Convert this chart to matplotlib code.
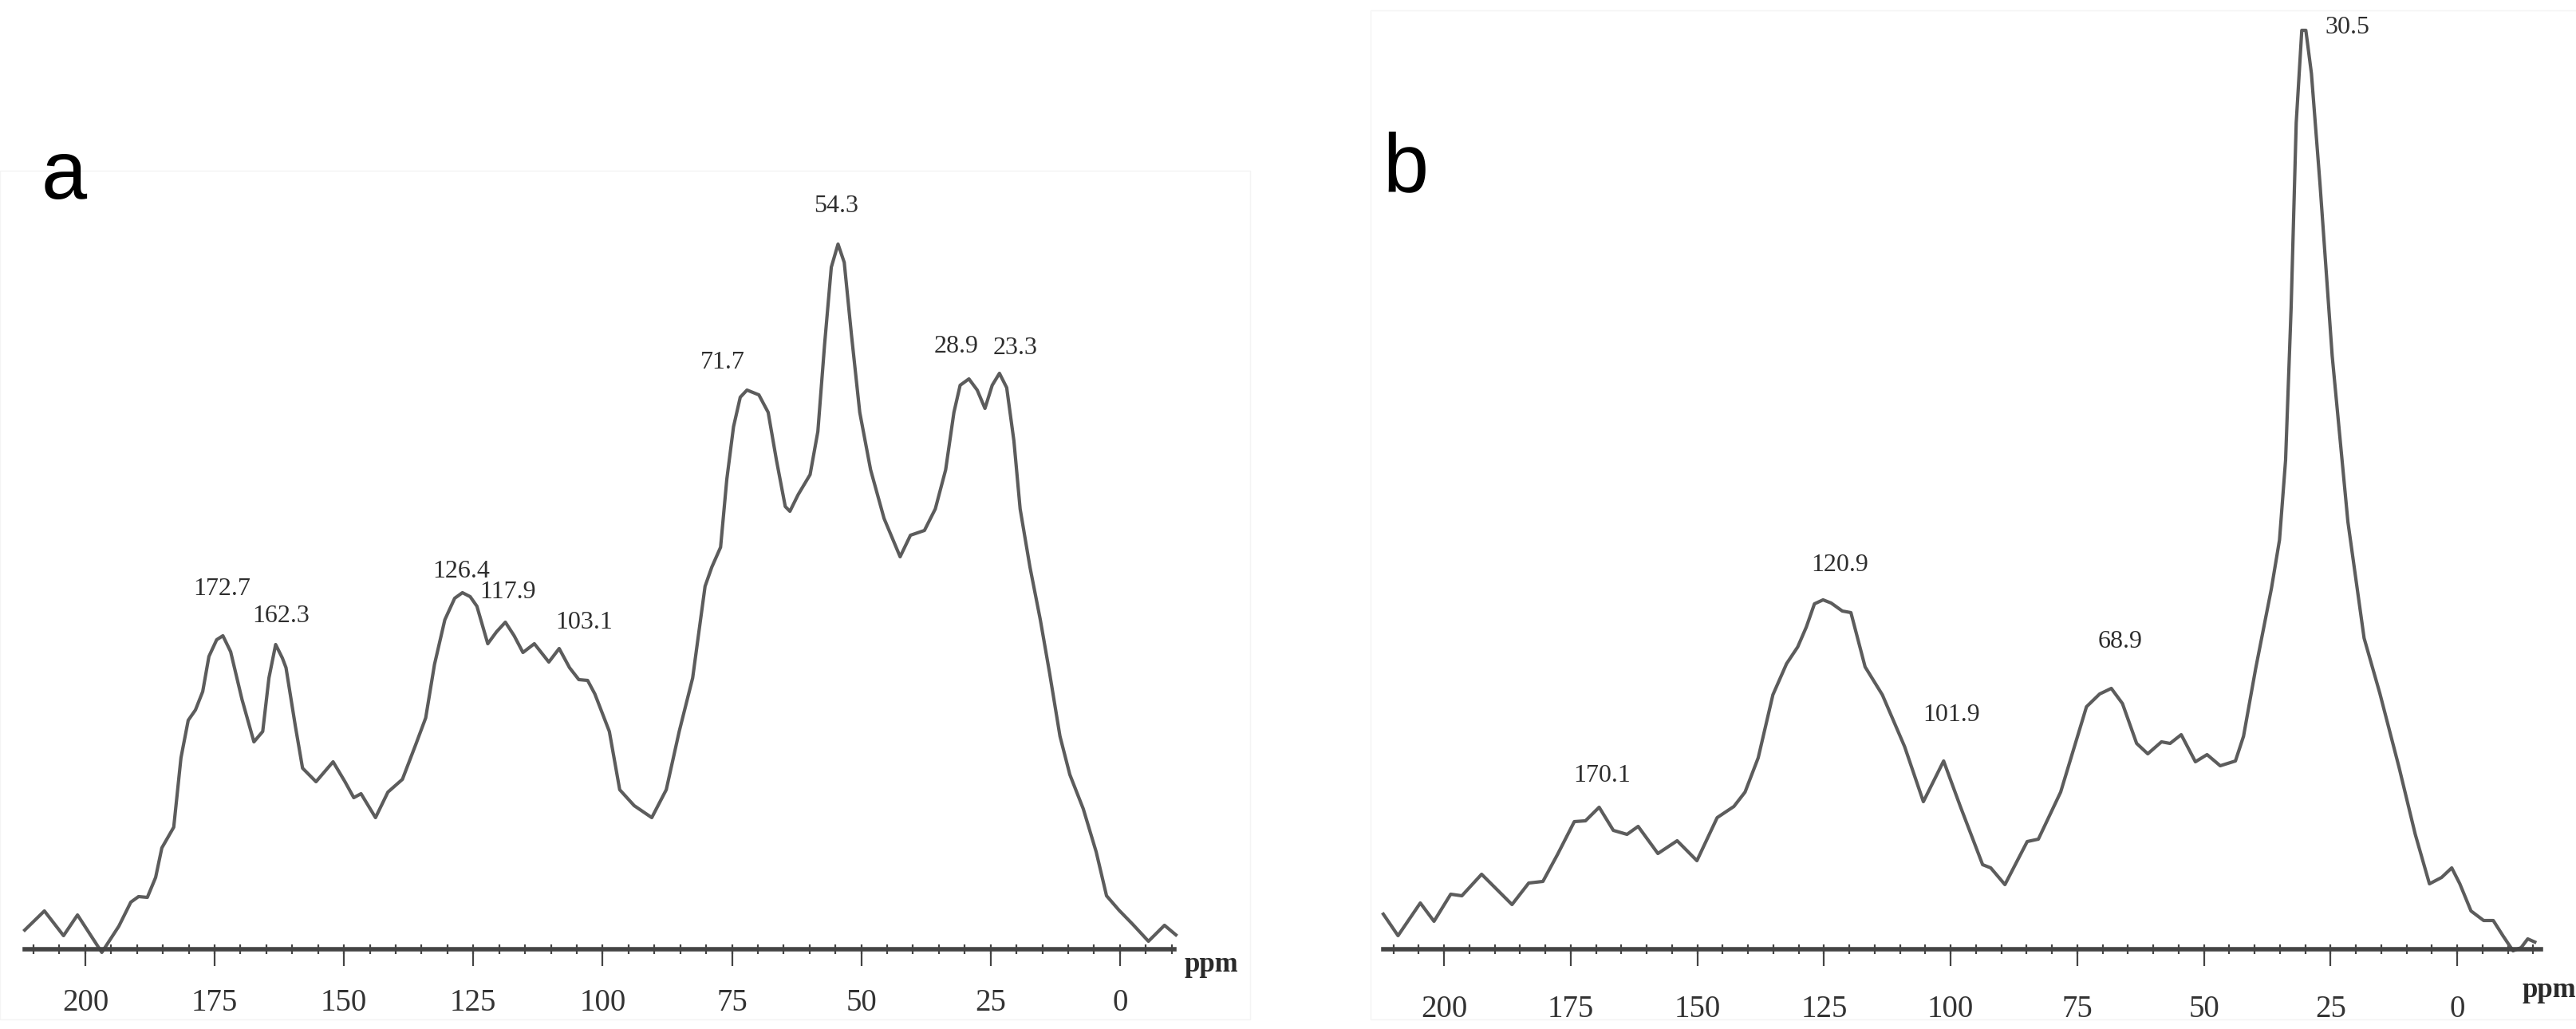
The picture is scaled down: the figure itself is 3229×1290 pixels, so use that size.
import numpy as np
import matplotlib.pyplot as plt
from matplotlib.ticker import MultipleLocator
from matplotlib.patches import Rectangle

# ---- spectrum a (ppm, intensity) ----
a_ppm = [211.7, 207.9, 204.2, 201.5, 196.8, 193.5, 191.2, 189.7, 188.0, 186.4,
         185.2, 182.9, 181.5, 180.1, 178.7, 177.3, 176.1, 174.6, 173.4, 171.9,
         169.7, 167.4, 165.7, 164.5, 163.2, 161.9, 161.2, 159.4, 158.0, 155.4,
         152.1, 149.8, 148.1, 146.7, 143.9, 141.5, 138.7, 136.1, 134.2, 132.5,
         130.5, 128.6, 127.1, 125.6, 124.3, 122.2, 120.5, 118.8, 117.1, 115.4,
         113.2, 110.4, 108.4, 106.4, 104.6, 102.9, 101.5, 98.7, 96.7, 93.9,
         90.5, 87.7, 85.2, 82.6, 80.2, 78.9, 77.2, 76.0, 74.7, 73.4,
         72.1, 69.8, 68.0, 66.4, 64.7, 63.8, 62.2, 59.9, 58.4, 57.1,
         55.8, 54.5, 53.3, 51.9, 50.3, 48.2, 45.6, 42.5, 40.5, 37.8,
         35.7, 33.7, 32.1, 30.9, 29.2, 27.6, 26.1, 24.7, 23.3, 21.9,
         20.5, 19.3, 17.4, 15.4, 13.6, 11.6, 9.7, 7.1, 4.6, 2.6,
         0.2, -2.5, -5.5, -8.6, -10.8]
a_int = [24, 48, 17, 43, -4, 29, 59, 66, 65, 90,
         127, 153, 240, 287, 300, 323, 367, 388, 393, 373,
         313, 260, 273, 340, 382, 365, 353, 280, 227, 210,
         235, 210, 190, 195, 165, 197, 213, 257, 290, 357,
         413, 440, 447, 442, 430, 383, 398, 410, 393, 372,
         383, 360, 377, 353, 338, 337, 320, 273, 200, 180,
         165, 200, 273, 340, 455, 479, 504, 589, 655, 692,
         701, 695, 673, 613, 555, 549, 570, 595, 649, 758,
         855, 884, 861, 770, 673, 601, 540, 492, 519, 525,
         552, 601, 673, 707, 715, 701, 678, 707, 722, 704,
         637, 552, 479, 413, 346, 267, 219, 176, 122, 67,
         49, 31, 10, 30, 18]

# ---- spectrum b ----
b_ppm = [212.0, 209.1, 204.7, 202.0, 198.7, 196.5, 192.6, 186.6, 183.3, 180.5,
         177.6, 174.3, 172.1, 169.4, 166.6, 163.9, 161.7, 157.8, 154.0, 150.1,
         146.1, 142.8, 140.6, 138.0, 135.1, 132.4, 130.2, 128.5, 126.9, 125.2,
         123.6, 121.4, 119.7, 116.9, 113.5, 109.1, 105.4, 101.4, 98.1, 93.7,
         92.1, 89.3, 84.9, 82.7, 78.3, 73.2, 70.6, 68.3, 66.1, 63.3,
         61.1, 58.4, 56.7, 54.5, 51.7, 49.4, 46.8, 43.8, 42.2, 39.8,
         36.7, 35.1, 33.9, 32.8, 31.8, 30.7, 29.9, 28.8, 27.1, 24.7,
         21.6, 18.4, 15.3, 11.5, 8.3, 5.5, 3.1, 1.1, -0.5, -2.7,
         -5.2, -7.1, -9.0, -11.0, -12.6, -13.9, -15.3]
b_int = [44, 17, 58, 35, 69, 67, 94, 56, 83, 85,
         119, 160, 161, 178, 149, 144, 154, 120, 136, 111,
         165, 179, 197, 240, 319, 358, 379, 404, 433, 438,
         434, 424, 422, 354, 319, 254, 185, 236, 179, 106,
         102, 81, 135, 138, 197, 304, 320, 327, 308, 258,
         245, 260, 258, 269, 235, 244, 230, 236, 267, 352,
         452, 513, 613, 805, 1036, 1152, 1152, 1098, 959, 744,
         536, 390, 321, 228, 144, 82, 90, 102, 82, 48,
         36, 36, 17, -2, 2, 13, 9]

# peak labels and where they sit (ppm, height)
a_peaks = ['172.7', '162.3', '126.4', '117.9', '103.1', '71.7', '54.3', '28.9', '23.3']
a_label_pos = [(173.6, 452), (162.2, 418), (127.4, 474), (118.3, 448), (103.6, 410),
               (76.8, 735), (54.8, 932), (31.7, 755), (20.2, 754)]
b_peaks = ['170.1', '120.9', '101.9', '68.9', '30.5']
b_label_pos = [(168.8, 217), (121.9, 481), (99.8, 294), (66.6, 386), (21.7, 1155)]

W, H = 3230, 1290
fig = plt.figure(figsize=(W / 100, H / 100), dpi=100)

# very faint borders of the two pasted pictures
fig.patches.append(Rectangle((0, 1 - 1278 / H), 1567 / W, (1278 - 214) / H,
                             transform=fig.transFigure, fill=False,
                             edgecolor='#f4f4f4', lw=1.0))
fig.patches.append(Rectangle((1718 / W, 1 - 1278 / H), (W - 1718) / W, (1278 - 13) / H,
                             transform=fig.transFigure, fill=False,
                             edgecolor='#f4f4f4', lw=1.0))


def spectrum(ax, ppm, inten, xlim, peaks, pos, pad):
    ax.plot(ppm, inten, color='#5c5c5c', lw=3.0, solid_joinstyle='round', clip_on=False)
    ax.set_xlim(*xlim)
    ax.set_ylim(-100, 1190)
    for s in ['top', 'left', 'right']:
        ax.spines[s].set_visible(False)
    ax.spines['bottom'].set_position(('data', 0))
    ax.spines['bottom'].set_color('#444444')
    ax.spines['bottom'].set_linewidth(4)
    ax.set_yticks([])
    ax.xaxis.set_major_locator(MultipleLocator(25))
    ax.xaxis.set_minor_locator(MultipleLocator(5))
    ax.xaxis.remove_overlapping_locs = False
    ax.tick_params(axis='x', which='major', direction='out', length=15, width=1.6,
                   color='#444444', pad=pad, labelsize=28, labelcolor='#333333')
    ax.tick_params(axis='x', which='minor', direction='inout', length=9, width=1.6,
                   color='#444444')
    for lab in ax.get_xticklabels():
        lab.set_fontfamily('Liberation Serif')
    for txt, (x, y) in zip(peaks, pos):
        ax.text(x, y, txt, ha='center', va='center', fontsize=23,
                family='Liberation Serif', color='#2e2e2e')
    ax.patch.set_alpha(0)


ax1 = fig.add_axes([31 / W, 0, (1472 - 31) / W, 1])
spectrum(ax1, a_ppm, a_int, (211.7, -10.5), a_peaks, a_label_pos, 20)
ax1.set_xticks(np.arange(0, 201, 25))

ax2 = fig.add_axes([1734 / W, 0, (3185 - 1734) / W, 1])
spectrum(ax2, b_ppm, b_int, (212.0, -16.5), b_peaks, b_label_pos, 26)
ax2.set_xticks(np.arange(0, 201, 25))

fig.text(1518 / W, 1 - 1210 / H, 'ppm', ha='center', va='center', fontsize=25,
         fontweight='bold', family='Liberation Serif', color='#2a2a2a')
fig.text(3195 / W, 1 - 1241 / H, 'ppm', ha='center', va='center', fontsize=25,
         fontweight='bold', family='Liberation Serif', color='#2a2a2a')

fig.text(80 / W, 1 - 222 / H, 'a', ha='center', va='center', fontsize=74,
         family='Liberation Sans', color='black')
fig.text(1762 / W, 1 - 213 / H, 'b', ha='center', va='center', fontsize=74,
         family='Liberation Sans', color='black')

fig.savefig('out.png', dpi=100, facecolor='white')
